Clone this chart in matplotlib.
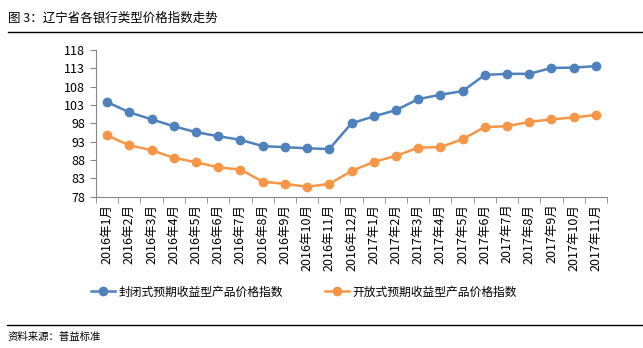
import matplotlib
matplotlib.use("Agg")
import matplotlib.pyplot as plt
from matplotlib.lines import Line2D
from matplotlib.ticker import FixedLocator

plt.rcParams['font.family'] = ['Noto Sans CJK SC', 'DejaVu Sans']

# Data
months = ["2016年1月", "2016年2月", "2016年3月", "2016年4月", "2016年5月", "2016年6月",
          "2016年7月", "2016年8月", "2016年9月", "2016年10月", "2016年11月", "2016年12月",
          "2017年1月", "2017年2月", "2017年3月", "2017年4月", "2017年5月", "2017年6月",
          "2017年7月", "2017年8月", "2017年9月", "2017年10月", "2017年11月"]
closed_index = [103.8, 101.0, 99.1, 97.2, 95.6, 94.5, 93.5, 91.8, 91.5, 91.2, 91.0, 98.0,
                99.9, 101.6, 104.6, 105.8, 106.8, 111.2, 111.5, 111.5, 113.1, 113.2, 113.6]
open_index = [94.7, 92.0, 90.7, 88.6, 87.4, 86.0, 85.4, 82.1, 81.5, 80.7, 81.5, 85.0,
              87.5, 89.1, 91.4, 91.5, 93.7, 97.0, 97.2, 98.4, 99.1, 99.6, 100.3]
yticks = [78, 83, 88, 93, 98, 103, 108, 113, 118]

blue = "#4F81BD"
orange = "#F79646"
axis_grey = "#868686"

fig = plt.figure(figsize=(6.43, 3.48), dpi=100)
ax = fig.add_axes([96 / 643, 1 - 196.7 / 348, 511 / 643, 146.7 / 348])

x = list(range(len(months)))
ax.plot(x, closed_index, color=blue, lw=1.8, marker="o", markersize=6, label="封闭式预期收益型产品价格指数")
ax.plot(x, open_index, color=orange, lw=1.8, marker="o", markersize=6, label="开放式预期收益型产品价格指数")

ax.set_xlim(-0.5, len(months) - 0.5)
ax.set_ylim(78, 118)
ax.set_yticks(yticks)
ax.set_xticks(x)
ax.set_xticklabels(months, rotation=90, fontsize=9)
ax.xaxis.set_minor_locator(FixedLocator([i - 0.5 for i in range(len(months) + 1)]))
ax.tick_params(axis="x", which="major", length=0, pad=5)
ax.tick_params(axis="x", which="minor", length=4, color=axis_grey)
ax.tick_params(axis="y", length=4, color=axis_grey, labelsize=9, pad=4)

for side in ["top", "right"]:
    ax.spines[side].set_visible(False)
for side in ["left", "bottom"]:
    ax.spines[side].set_color(axis_grey)
    ax.spines[side].set_linewidth(0.8)

fig.legend(loc="center", bbox_to_anchor=(304 / 643, 1 - 292 / 348), ncol=2, frameon=False,
           fontsize=8.5, handlelength=2.0, handletextpad=0.3, columnspacing=3.6)

# title and footer
fig.text(8 / 643, 1 - 18 / 348, "图 3：辽宁省各银行类型价格指数走势", fontsize=9, va="center", ha="left")
fig.add_artist(Line2D([8 / 643, 1.0], [1 - 32 / 348, 1 - 32 / 348], color="black", lw=1.0))
fig.add_artist(Line2D([7 / 643, 1.0], [1 - 325 / 348, 1 - 325 / 348], color="black", lw=1.0))
fig.text(8 / 643, 1 - 337 / 348, "资料来源：普益标准", fontsize=7.5, va="center", ha="left")

fig.savefig("out.png", dpi=100)
